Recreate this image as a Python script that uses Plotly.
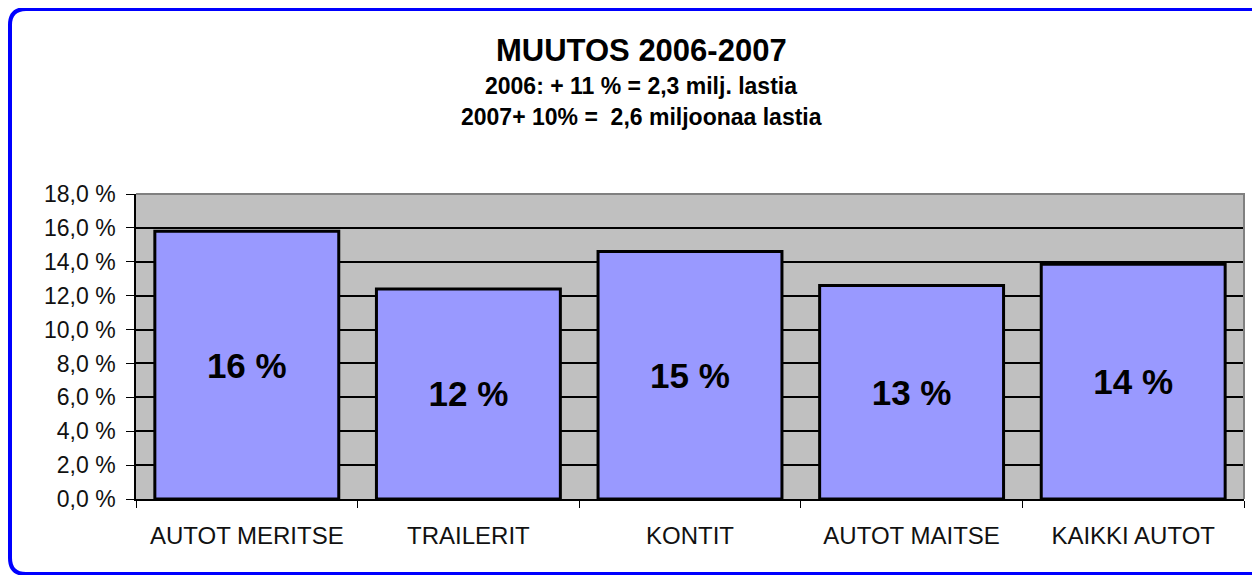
import plotly.graph_objects as go

# data
categories = ["AUTOT MERITSE", "TRAILERIT", "KONTIT", "AUTOT MAITSE", "KAIKKI AUTOT"]
changes = [15.8, 12.4, 14.6, 12.6, 13.85]
bar_labels = ["16 %", "12 %", "15 %", "13 %", "14 %"]
tick_values = [0, 2, 4, 6, 8, 10, 12, 14, 16, 18]
tick_labels = ["0,0 %", "2,0 %", "4,0 %", "6,0 %", "8,0 %",
               "10,0 %", "12,0 %", "14,0 %", "16,0 %", "18,0 %"]
title_lines = ["MUUTOS 2006-2007",
               "2006: + 11 % = 2,3 milj. lastia",
               "2007+ 10% =  2,6 miljoonaa lastia"]

# the page body has an 8px margin, so the figure is drawn 8px smaller
OFF = 8
W, H = 1260 - OFF, 575 - OFF
# plot area in page pixels: x 136..1244, y 194..499
L, R, T, B = 136 - OFF, 1260 - 1244, 194 - OFF, 575 - 499
PW, PH = W - L - R, H - T - B
FONT = "Liberation Sans, Arial, sans-serif"


def px(x):
    # page pixel x -> paper coordinate
    return (x - OFF - L) / PW


def py(y):
    # page pixel y -> paper coordinate
    return (H - B - (y - OFF)) / PH


fig = go.Figure(go.Bar(
    x=categories,
    y=changes,
    text=bar_labels,
    textposition="inside",
    insidetextanchor="middle",
    textangle=0,
    textfont=dict(family=FONT, size=35, color="black", weight="bold"),
    marker=dict(color="#9999FF", line=dict(color="black", width=3)),
    hoverinfo="x+y",
))

# rounded blue frame around the whole chart (right side runs off the page)
x0, y0, x1, y1, r = 10, 9, 1272, 574, 16
frame = (f"M {px(x0)},{py(y0 + r)} Q {px(x0)},{py(y0)} {px(x0 + r)},{py(y0)} "
         f"L {px(x1 - r)},{py(y0)} Q {px(x1)},{py(y0)} {px(x1)},{py(y0 + r)} "
         f"L {px(x1)},{py(y1 - r)} Q {px(x1)},{py(y1)} {px(x1 - r)},{py(y1)} "
         f"L {px(x0 + r)},{py(y1)} Q {px(x0)},{py(y1)} {px(x0)},{py(y1 - r)} Z")

shapes = [
    dict(type="path", xref="paper", yref="paper", path=frame,
         line=dict(color="#0000FF", width=4), layer="above"),
    # grey plot border on top and right
    dict(type="path", xref="paper", yref="paper", path="M 0,1 L 1,1 L 1,0",
         line=dict(color="#808080", width=2), layer="above"),
]

annotations = []
for text, ypix, size in zip(title_lines, [50, 86, 117], [31, 23, 23]):
    annotations.append(dict(
        text=f"<b>{text}</b>", x=px(641), y=py(ypix), xref="paper", yref="paper",
        xanchor="center", yanchor="middle", showarrow=False,
        font=dict(family=FONT, size=size, color="black"),
    ))

fig.update_layout(
    width=W, height=H,
    margin=dict(l=L, r=R, t=T, b=B, pad=0),
    paper_bgcolor="white",
    plot_bgcolor="#C0C0C0",
    bargap=0.17,
    showlegend=False,
    shapes=shapes,
    annotations=annotations,
    font=dict(family=FONT, color="black"),
)
fig.update_xaxes(
    showgrid=False, showline=True, linecolor="black", linewidth=1.5,
    ticks="outside", tickson="boundaries", ticklen=7, tickcolor="black",
    ticklabelstandoff=14,
    tickfont=dict(family=FONT, size=24, color="#111111"),
)
fig.update_yaxes(
    range=[0, 18], tickvals=tick_values, ticktext=tick_labels,
    showgrid=True, gridcolor="black", gridwidth=1.5, zeroline=False,
    showline=True, linecolor="black", linewidth=1.5,
    ticks="outside", ticklen=8, tickcolor="black",
    ticklabelstandoff=6,
    tickfont=dict(family=FONT, size=23, color="#111111"),
)

fig.write_html("out.html")
